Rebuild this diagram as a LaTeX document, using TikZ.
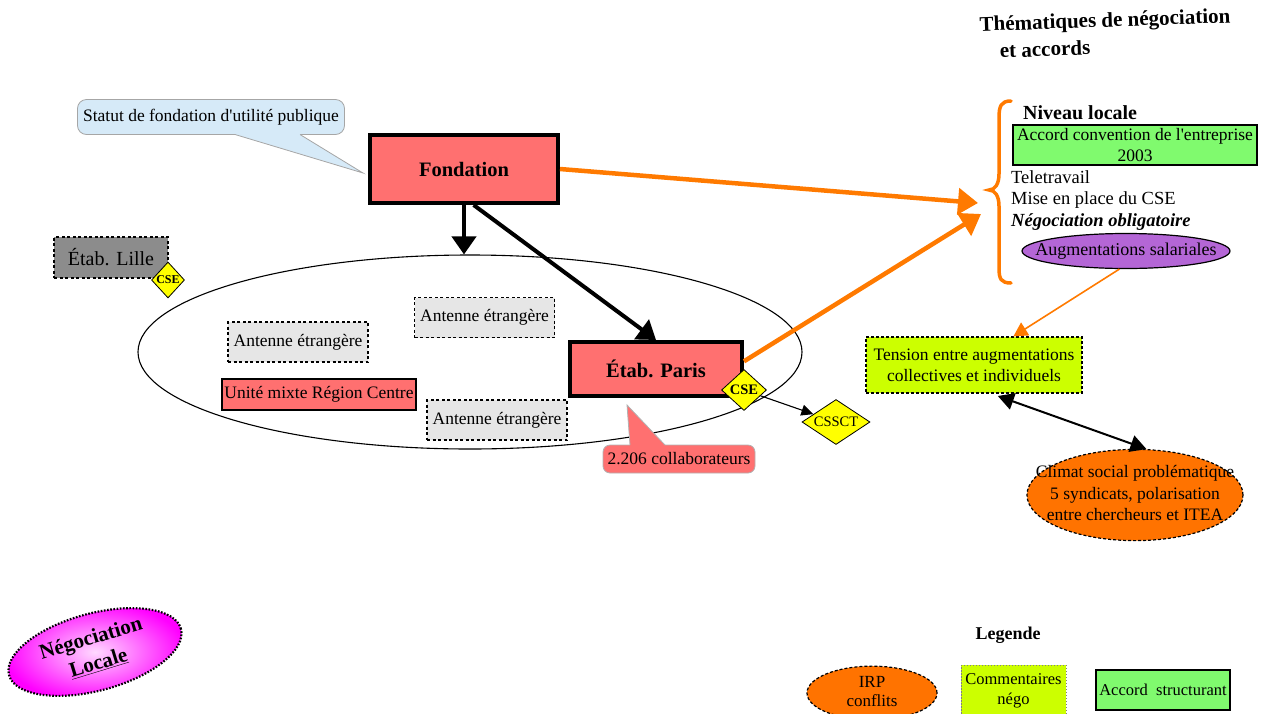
\documentclass[tikz,border=0pt]{standalone}
\usepackage{fontspec}
\setmainfont{Liberation Serif}[Ligatures=TeXOff]
\usetikzlibrary{shapes.geometric,arrows.meta}
\definecolor{salmon}{RGB}{255,112,112}
\definecolor{callblue}{RGB}{214,234,248}
\definecolor{lillegray}{RGB}{140,140,140}
\definecolor{antgray}{RGB}{230,230,230}
\definecolor{arrorange}{RGB}{255,122,0}
\definecolor{climorange}{RGB}{255,115,0}
\definecolor{accgreen}{RGB}{128,250,110}
\definecolor{augpurple}{RGB}{180,102,214}
\definecolor{limegr}{RGB}{204,255,0}
\definecolor{cseyellow}{RGB}{255,255,0}
\newcommand{\fsz}[2]{\fontsize{#1}{#2}\selectfont}
\begin{document}
\begin{tikzpicture}[x=1pt,y=-1pt,
  base/.style={font=\fsz{17.5}{21}, inner sep=1pt},
  redbox/.style={fill=salmon, draw, line width=4pt, font=\fsz{20.5}{24}\bfseries},
  antbox/.style={base, fill=antgray, draw, line width=1.3pt, dash pattern=on 3pt off 2.5pt, minimum width=140, minimum height=40},
  ydiam/.style={diamond, fill=cseyellow, draw, line width=0.8pt, inner sep=0pt},
  blkarrow/.style={line width=4pt, -{Triangle[length=18pt,width=24pt]}},
  orarrow/.style={arrorange, line width=4.5pt, -{Triangle[length=20pt,width=26pt]}},
  plainline/.style={anchor=west, font=\fsz{18.5}{22}, inner sep=0pt}
]
\useasboundingbox (0,0) rectangle (1262,713);
\clip (0,0) rectangle (1262,713);

% big ellipse
\node[ellipse, draw, line width=1.1pt, minimum width=664, minimum height=194, inner sep=0pt] (org) at (470,352) {};

% Fondation
\node[redbox, minimum width=188, minimum height=68] (fond) at (464,169) {Fondation};

% callout statut
\node[base, fill=callblue, draw=gray!70, line width=0.8pt, rounded corners=9pt, minimum width=267, minimum height=35] (stat) at (211,117) {Statut de fondation d'utilit\'e publique};
\fill[callblue] (235,131) -- (235,134.5) -- (363,173) -- (300,134.5) -- (300,131) -- cycle;
\draw[gray!70, line width=0.8pt] (235,134.5) -- (363,173) -- (300,134.5);

% Lille
\node[fill=lillegray, draw, line width=1.3pt, dash pattern=on 3pt off 2.5pt, minimum width=114, minimum height=41, font=\fsz{20}{24}] (lille) at (111,257.5) {\'Etab. Lille\hspace{8pt}};
\node[ydiam, minimum width=33, minimum height=36, font=\fsz{12}{14}\bfseries] (lcse) at (168,280) {CSE};

% antennes
\node[antbox] (ant1) at (298,342) {Antenne \'etrang\`ere};
\node[antbox] (ant2) at (484.5,317.5) {Antenne \'etrang\`ere};
\node[antbox] (ant3) at (497,420) {Antenne \'etrang\`ere};
\node[base, fill=salmon, draw, line width=1.2pt, minimum width=194, minimum height=31] (um) at (319,394.5) {Unit\'e mixte R\'egion Centre};

% Paris
\node[redbox, minimum width=172, minimum height=54] (paris) at (656,369) {\'Etab. Paris};
\node[ydiam, aspect=1.1, minimum width=45, minimum height=41, font=\fsz{14.5}{16}\bfseries] (pcse) at (744,390) {CSE};
\node[ydiam, aspect=1.5, minimum width=68, minimum height=45, font=\fsz{14.5}{16}] (cssct) at (836,422) {CSSCT};
\draw[line width=1.1pt, -{Triangle[length=12pt,width=11pt]}] (pcse) -- (cssct);

% collaborateurs callout
\node[base, fill=salmon, draw=gray!60, line width=0.8pt, rounded corners=7pt, minimum width=152, minimum height=28] (coll) at (679,459) {2.206 collaborateurs};
\fill[salmon] (630,448) -- (630,445) -- (627,405) -- (665,445) -- (665,448) -- cycle;
\draw[gray!60, line width=0.8pt] (630,445) -- (627,405) -- (665,445);

% black arrows
\draw[blkarrow] (fond.south) -- (fond.south |- org.north);
\draw[blkarrow] (fond.285) -- (paris.north);

% right side
\node[font=\fsz{21}{24}\bfseries, rotate=2, inner sep=0pt] (t1) at (1105,22) {Th\'ematiques de n\'egociation};
\node[font=\fsz{21}{24}\bfseries, rotate=2, inner sep=0pt] (t2) at (1045,49) {et accords};

\coordinate (ba) at (978,203);
\coordinate (bb) at (981,214);
\draw[arrorange, line width=3.5pt, line cap=round]
  (1011,101) .. controls (1001,101) and (999,106) .. (999,118) -- (999,174)
  .. controls (999,184) and (995,190) .. (989,190)
  .. controls (995,190) and (999,196) .. (999,206) -- (999,268)
  .. controls (999,279) and (1001,283) .. (1011,283);

\node[plainline, font=\fsz{20}{24}\bfseries] (niv) at (1023,113) {Niveau locale};
\node[base, fill=accgreen, draw, line width=2pt, minimum width=244, minimum height=40, align=center, inner sep=0pt] (acc) at (1135,145) {Accord convention de l'entreprise\\2003};
\node[plainline] (tele) at (1011,177) {Teletravail};
\node[plainline] (mise) at (1011,200) {Mise en place du CSE};
\node[plainline, font=\fsz{18.5}{22}\bfseries\itshape] (nego) at (1011,222) {N\'egociation obligatoire};
\node[ellipse, fill=augpurple, draw, line width=1.2pt, minimum width=208, minimum height=35, inner sep=0pt, font=\fsz{18}{21}] (aug) at (1126,251) {\makebox[0pt]{Augmentations salariales}};

\draw[orarrow] (fond.east) -- (ba);
\draw[orarrow] (paris.5) -- (bb);

\node[base, fill=limegr, draw, line width=1.2pt, dash pattern=on 3pt off 2pt, minimum width=216, minimum height=56, align=center] (tens) at (974,365) {Tension entre augmentations\\collectives et individuels};
\draw[arrorange, line width=1.6pt, -{Triangle[length=14pt,width=15pt]}] (aug.250) -- (tens.36);

\node[ellipse, fill=climorange, draw, line width=1.2pt, dash pattern=on 3pt off 2pt, minimum width=216, minimum height=84, inner sep=0pt, font=\fsz{17.5}{21.5}] (clim) at (1135,495) {\makebox[0pt]{\begin{tabular}{@{}c@{}}Climat social probl\'ematique\\5 syndicats, polarisation\\entre chercheurs et ITEA\end{tabular}}};
\draw[line width=2pt, {Triangle[length=16pt,width=17pt]}-{Triangle[length=16pt,width=17pt]}, shorten <=7pt] (tens.-59) -- (clim.76);

% Negociation locale
\node[ellipse, rotate=15, minimum width=178, minimum height=58, inner sep=0pt, draw, line width=2.2pt, dash pattern=on 1.6pt off 1.6pt, shading=radial, inner color=magenta!15, outer color=magenta, font=\fsz{21}{25}\bfseries] (nl) at (95,652) {\makebox[0pt]{\rotatebox{2}{\begin{tabular}{@{}c@{}}N\'egociation\\[1pt]\underline{Locale}\end{tabular}}}};

% legend
\node[font=\fsz{18}{21}\bfseries] (leg) at (1008,635) {Legende};
\node[ellipse, fill=climorange, draw, line width=1.2pt, dash pattern=on 3pt off 2pt, minimum width=130, minimum height=44, inner sep=0pt, font=\fsz{17}{19}] (irp) at (872,693) {\makebox[0pt]{\raisebox{-4pt}{\begin{tabular}{@{}c@{}}IRP\\conflits\end{tabular}}}};
\node[fill=limegr, draw=gray, line width=1pt, dash pattern=on 1.5pt off 1.5pt, minimum width=105, minimum height=52, align=center, font=\fsz{16.5}{20}, inner sep=0pt] (com) at (1013.5,691) {Commentaires\\n\'ego};
\node[fill=accgreen, draw, line width=2.5pt, minimum width=128, minimum height=40, font=\fsz{16.5}{20}] (accs) at (1163,690) {Accord~~structurant};
\end{tikzpicture}
\end{document}
